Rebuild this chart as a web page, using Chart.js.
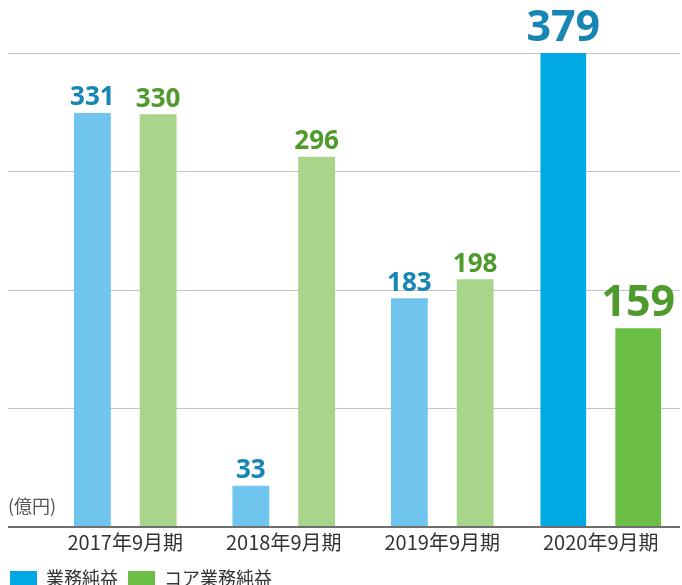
<!DOCTYPE html>
<html>
<head>
<meta charset="utf-8">
<script src="https://cdn.jsdelivr.net/npm/chart.js@4/dist/chart.umd.min.js"></script>
<style>
  html, body { margin: 0; padding: 0; background: #fff; overflow: hidden; }
  #wrap { position: relative; width: 682px; height: 597px; }
</style>
</head>
<body>
<div id="wrap"><canvas id="chart"></canvas></div>
<script>
// data
const periods = ['2017年9月期', '2018年9月期', '2019年9月期', '2020年9月期'];
const businessProfit = [331, 33, 183, 379];      // 業務純益
const coreBusinessProfit = [330, 296, 198, 159];  // コア業務純益
const seriesNames = ['業務純益', 'コア業務純益'];
const unitLabel = '(億円)';
const axisMax = 379;

const JP = '"Noto Sans CJK JP", "Noto Sans", sans-serif';
const lastIdx = periods.length - 1;

// past years are pale, latest year is highlighted and a bit wider
const pastOnly = arr => arr.map((v, i) => i < lastIdx ? v : null);
const latestOnly = arr => arr.map((v, i) => i === lastIdx ? v : null);

const past = { categoryPercentage: 0.83, barPercentage: 0.56, skipNull: true };
const latest = { categoryPercentage: 0.945, barPercentage: 0.61, skipNull: true, big: true };

const datasets = [
  { ...past, label: seriesNames[0], data: pastOnly(businessProfit), backgroundColor: '#70c5ee', labelColor: '#1786b5' },
  { ...past, label: seriesNames[1], data: pastOnly(coreBusinessProfit), backgroundColor: '#a8d58a', labelColor: '#4f9a2c' },
  { ...latest, label: seriesNames[0], data: latestOnly(businessProfit), backgroundColor: '#00a9e3', labelColor: '#1786b5' },
  { ...latest, label: seriesNames[1], data: latestOnly(coreBusinessProfit), backgroundColor: '#6cbf45', labelColor: '#4f9a2c' }
];

// value labels above the bars + unit text
const valueLabels = {
  id: 'valueLabels',
  afterLayout(chart) {
    // legend hugs the left edge like the original
    if (chart.legend) chart.legend.left = 0;
  },
  afterDatasetsDraw(chart) {
    const ctx = chart.ctx;
    ctx.save();
    ctx.textAlign = 'center';
    ctx.textBaseline = 'bottom';
    chart.data.datasets.forEach((ds, di) => {
      const meta = chart.getDatasetMeta(di);
      meta.data.forEach((bar, i) => {
        if (ds.data[i] == null) return;
        ctx.font = ds.big ? 'bold 43px "Open Sans", sans-serif' : 'bold 26px "Open Sans", sans-serif';
        ctx.fillStyle = ds.labelColor;
        ctx.fillText(String(ds.data[i]), bar.x, bar.y - (ds.big ? 3 : 2));
      });
    });
    ctx.font = '18px ' + JP;
    ctx.fillStyle = '#555';
    ctx.textAlign = 'left';
    ctx.textBaseline = 'alphabetic';
    ctx.fillText(unitLabel, 8, chart.chartArea.bottom - 14);
    ctx.restore();
  }
};

new Chart(document.getElementById('chart'), {
  type: 'bar',
  data: { labels: periods, datasets },
  options: {
    responsive: true,
    maintainAspectRatio: false,
    animation: false,
    layout: { padding: { top: 53, left: 8, right: 2, bottom: 0 } },
    scales: {
      x: {
        grid: { display: false },
        border: { display: false },
        ticks: { color: '#333', font: { family: JP, size: 20 }, padding: -5 },
        afterFit: scale => { scale.height += 10; }
      },
      y: {
        min: 0,
        max: axisMax,
        border: { display: false },
        ticks: { display: false, count: 5 },
        grid: {
          drawTicks: true,
          tickLength: 38,
          color: c => c.tick && c.tick.value === 0 ? '#6e6e6e' : '#c4c4c4',
          lineWidth: c => c.tick && c.tick.value === 0 ? 2 : 1
        }
      }
    },
    plugins: {
      legend: {
        position: 'bottom',
        align: 'start',
        labels: {
          filter: item => item.datasetIndex >= 2,
          boxWidth: 27,
          boxHeight: 14,
          color: '#333',
          padding: 10,
          font: { family: JP, size: 18 }
        }
      },
      tooltip: { enabled: false }
    }
  },
  plugins: [valueLabels]
});
</script>
</body>
</html>
